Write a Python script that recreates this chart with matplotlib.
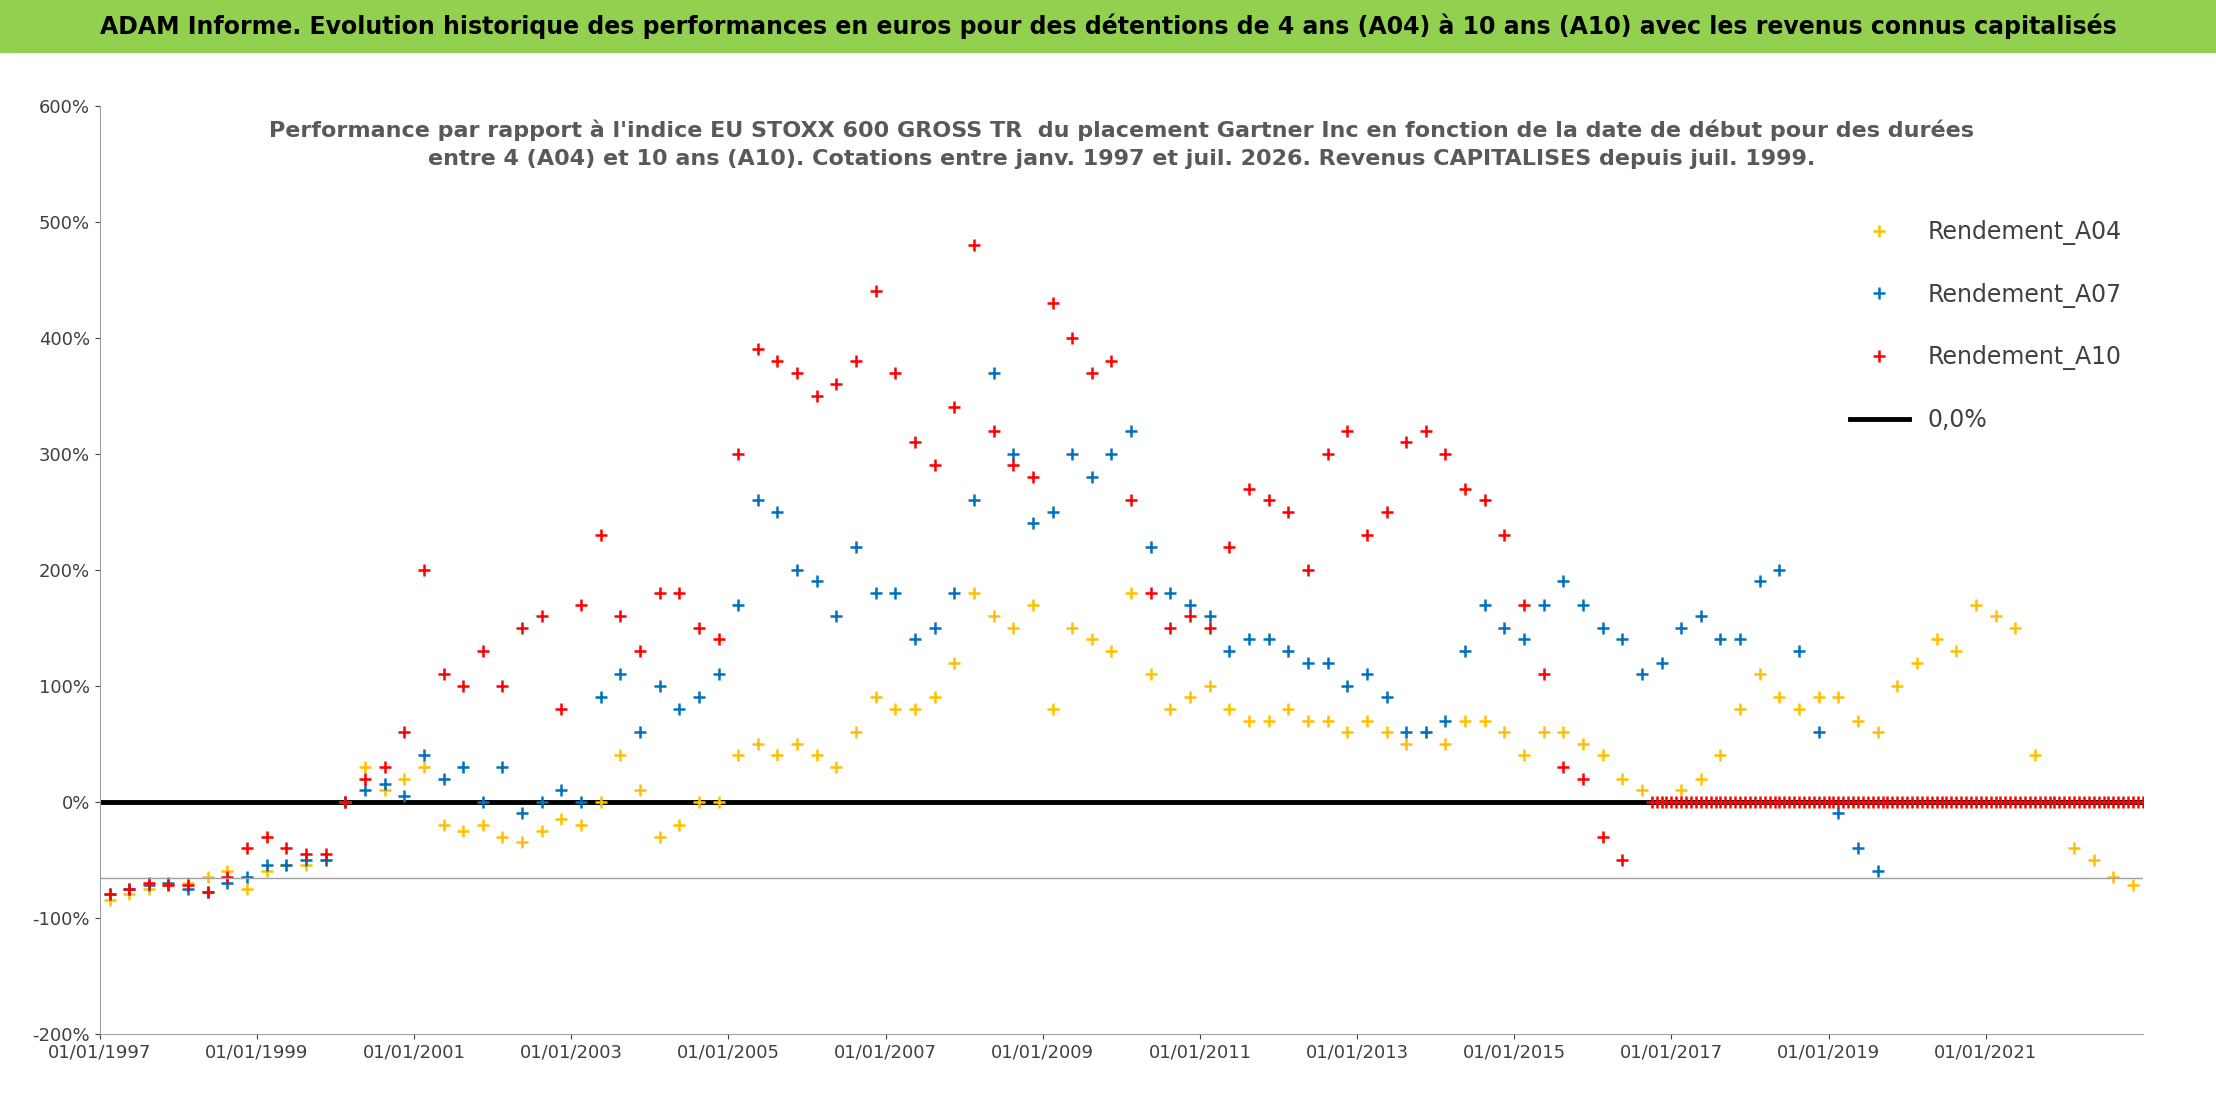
import matplotlib
matplotlib.use("Agg")
import matplotlib.pyplot as plt
from matplotlib.ticker import FuncFormatter

a04 = [-85,-80,-75,-72, -70,-65,-60,-75, -60,-55,-55,-50, 0,30,10,20, 30,-20,-25,-20,
       -30,-35,-25,-15, -20,0,40,10, -30,-20,0,0, 40,50,40,50, 40,30,60,90, 80,80,90,120,
       180,160,150,170, 80,150,140,130, 180,110,80,90, 100,80,70,70, 80,70,70,60,
       70,60,50,60, 50,70,70,60, 40,60,60,50, 40,20,10,0, 10,20,40,80, 110,90,80,90,
       90,70,60,100, 120,140,130,170, 160,150,40,0, -40,-50,-65,-72]
a07 = [-80,-75,-72,-70, -75,-78,-70,-65, -55,-55,-50,-50, 0,10,15,5, 40,20,30,0,
       30,-10,0,10, 0,90,110,60, 100,80,90,110, 170,260,250,200, 190,160,220,180,
       180,140,150,180, 260,370,300,240, 250,300,280,300, 320,220,180,170, 160,130,140,140,
       130,120,120,100, 110,90,60,60, 70,130,170,150, 140,170,190,170, 150,140,110,120,
       150,160,140,140, 190,200,130,60, -10,-40,-60]
a10 = [-80,-75,-70,-72, -72,-78,-65,-40, -30,-40,-45,-45, 0,20,30,60, 200,110,100,130,
       100,150,160,80, 170,230,160,130, 180,180,150,140, 300,390,380,370, 350,360,380,440,
       370,310,290,340, 480,320,290,280, 430,400,370,380, 260,180,150,160, 150,220,270,260,
       250,200,300,320, 230,250,310,320, 300,270,260,230, 170,110,30,20, -30,-50]
zero_start, zero_end = 2016.75, 2023.5
years = list(range(1997, 2023, 2))

def qx(n):
    return [1997.125 + 0.25 * i for i in range(n)]

fig = plt.figure(figsize=(22.16, 11.02), dpi=100)
fig.patches.append(plt.Rectangle((0, 0.953), 1, 0.047, transform=fig.transFigure,
                                 color="#92d050", zorder=-1))
fig.text(0.5, 0.976, "ADAM Informe. Evolution historique des performances en euros pour des détentions de 4 ans (A04) à 10 ans (A10) avec les revenus connus capitalisés",
         ha="center", va="center", fontsize=17, fontweight="bold")
ax = fig.add_axes([0.045, 0.062, 0.922, 0.842])
ms, mw = 9, 1.8
ax.plot(qx(len(a04)), [v/100 for v in a04], "+", color="#ffc000", ms=ms, mew=mw, label="Rendement_A04")
ax.plot(qx(len(a07)), [v/100 for v in a07], "+", color="#0070c0", ms=ms, mew=mw, label="Rendement_A07")
ax.plot(qx(len(a10)), [v/100 for v in a10], "+", color="#ff0000", ms=ms, mew=mw, label="Rendement_A10")
zx = [zero_start + 0.0625 * i for i in range(int((zero_end - zero_start) / 0.0625) + 1)]
ax.plot(zx, [0]*len(zx), "+", color="#ff0000", ms=ms, mew=mw)
ax.axhline(0, color="black", lw=3.5, label="0,0%", zorder=1)
ax.axhline(-0.66, color="#a0a0a0", lw=1)
ax.set_xlim(1997, 2023)
ax.set_ylim(-2, 6)
ax.set_yticks([i for i in range(-2, 7)])
ax.yaxis.set_major_formatter(FuncFormatter(lambda v, p: f"{v*100:.0f}%"))
ax.set_xticks(years)
ax.set_xticklabels([f"01/01/{y}" for y in years])
ax.tick_params(labelsize=13, colors="#404040")
for s in ["top", "right"]:
    ax.spines[s].set_visible(False)
ax.spines["left"].set_color("#a0a0a0")
ax.spines["bottom"].set_color("#a0a0a0")
ax.text(0.5, 0.985, "Performance par rapport à l'indice EU STOXX 600 GROSS TR  du placement Gartner Inc en fonction de la date de début pour des durées\nentre 4 (A04) et 10 ans (A10). Cotations entre janv. 1997 et juil. 2026. Revenus CAPITALISES depuis juil. 1999.",
        transform=ax.transAxes, ha="center", va="top", fontsize=16, fontweight="bold",
        color="#595959", linespacing=1.5)
leg = ax.legend(loc="upper right", bbox_to_anchor=(1.0, 0.9), frameon=False,
                labelspacing=1.6, handlelength=2.5, fontsize=17)
for t in leg.get_texts():
    t.set_color("#404040")
fig.savefig("out.png")
